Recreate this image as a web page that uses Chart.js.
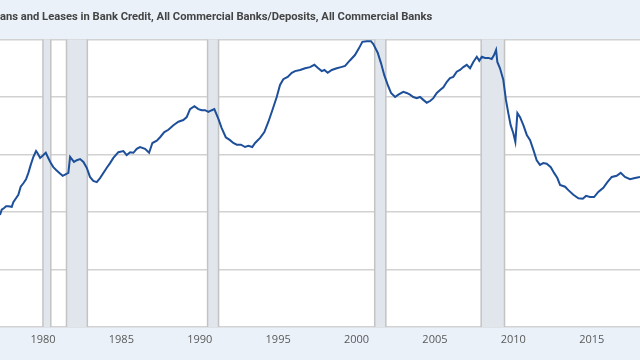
<!DOCTYPE html>
<html>
<head>
    <title>Loans and Leases / Deposits</title>
    <script src="https://cdn.jsdelivr.net/npm/chart.js"></script>
    <style>
        body { margin: 0; background: #eaf1f9; }
        #wrap { width: 640px; height: 360px; overflow: hidden; }
    </style>
</head>
<body>
<div id="wrap">
    <canvas id="ratioChart" width="640" height="360"></canvas>
</div>

<script>
    // Título (cortado à esquerda como no original)
    const titulo = 'Loans and Leases in Bank Credit, All Commercial Banks/Deposits, All Commercial Banks';

    // Anos (decimais) e valores
    const anos = [
        1977.26, 1977.37, 1977.52, 1977.65, 1977.79, 1978.01, 1978.11, 1978.28, 1978.43, 1978.58,
        1978.75, 1978.92, 1979.07, 1979.22, 1979.39, 1979.56, 1979.64, 1979.82, 1980.03, 1980.18,
        1980.34, 1980.50, 1980.66, 1980.84, 1981.05, 1981.26, 1981.47, 1981.62, 1981.73, 1981.84,
        1981.98, 1982.16, 1982.37, 1982.58, 1982.79, 1983.00, 1983.21, 1983.43, 1983.64, 1984.07,
        1984.28, 1984.49, 1984.81, 1985.13, 1985.34, 1985.56, 1985.77, 1985.98, 1986.19, 1986.51,
        1986.77, 1986.98, 1987.26, 1987.47, 1987.74, 1988.00, 1988.32, 1988.64, 1988.95, 1989.17,
        1989.38, 1989.66, 1989.91, 1990.13, 1990.34, 1990.55, 1990.77, 1990.93, 1991.19, 1991.40,
        1991.66, 1991.93, 1992.14, 1992.36, 1992.63, 1992.89, 1993.10, 1993.35, 1993.53, 1993.85,
        1994.12, 1994.38, 1994.63, 1994.91, 1995.12, 1995.33, 1995.61, 1995.87, 1996.08, 1996.40,
        1996.72, 1997.03, 1997.31, 1997.56, 1997.78, 1997.95, 1998.16, 1998.42, 1998.74, 1999.01,
        1999.27, 1999.59, 1999.90, 2000.16, 2000.37, 2000.65, 2000.92, 2001.07, 2001.35, 2001.56,
        2001.77, 2001.99, 2002.20, 2002.46, 2002.67, 2002.98, 2003.20, 2003.41, 2003.62, 2003.84,
        2004.05, 2004.26, 2004.48, 2004.69, 2004.90, 2005.12, 2005.33, 2005.54, 2005.75, 2005.96,
        2006.17, 2006.39, 2006.60, 2006.81, 2007.03, 2007.24, 2007.45, 2007.67, 2007.83, 2007.99,
        2008.20, 2008.41, 2008.62, 2008.77, 2008.90, 2008.98, 2009.15, 2009.36, 2009.53, 2009.68,
        2009.83, 2010.00, 2010.13, 2010.26, 2010.43, 2010.64, 2010.86, 2011.07, 2011.28, 2011.49,
        2011.70, 2011.91, 2012.13, 2012.39, 2012.60, 2012.81, 2012.98, 2013.30, 2013.51, 2013.83,
        2014.15, 2014.43, 2014.64, 2014.89, 2015.15, 2015.42, 2015.74, 2016.00, 2016.28, 2016.59,
        2016.85, 2017.12, 2017.44, 2017.76, 2018.08
    ];
    const razao = [
        0.695, 0.704, 0.707, 0.710, 0.710, 0.709, 0.717, 0.724, 0.730, 0.744,
        0.750, 0.757, 0.768, 0.782, 0.796, 0.806, 0.803, 0.794, 0.799, 0.803,
        0.794, 0.785, 0.778, 0.773, 0.768, 0.763, 0.766, 0.768, 0.796, 0.792,
        0.787, 0.790, 0.792, 0.787, 0.777, 0.761, 0.754, 0.752, 0.759, 0.777,
        0.785, 0.794, 0.804, 0.806, 0.799, 0.804, 0.803, 0.810, 0.813, 0.810,
        0.803, 0.820, 0.824, 0.830, 0.839, 0.843, 0.851, 0.857, 0.860, 0.865,
        0.879, 0.884, 0.879, 0.877, 0.877, 0.874, 0.877, 0.879, 0.862, 0.846,
        0.830, 0.825, 0.820, 0.817, 0.817, 0.813, 0.815, 0.813, 0.820, 0.829,
        0.839, 0.857, 0.877, 0.900, 0.921, 0.931, 0.935, 0.942, 0.945, 0.947,
        0.950, 0.952, 0.956, 0.950, 0.945, 0.947, 0.942, 0.947, 0.950, 0.952,
        0.954, 0.964, 0.973, 0.985, 0.996, 0.997, 0.997, 0.992, 0.977, 0.959,
        0.938, 0.921, 0.907, 0.900, 0.904, 0.909, 0.907, 0.904, 0.900, 0.898,
        0.900, 0.895, 0.890, 0.893, 0.898, 0.907, 0.912, 0.917, 0.926, 0.933,
        0.935, 0.944, 0.947, 0.952, 0.956, 0.950, 0.961, 0.970, 0.963, 0.970,
        0.968, 0.968, 0.966, 0.973, 0.982, 0.961, 0.950, 0.930, 0.895, 0.872,
        0.851, 0.837, 0.822, 0.872, 0.865, 0.851, 0.834, 0.825, 0.808, 0.790,
        0.782, 0.785, 0.784, 0.778, 0.768, 0.759, 0.747, 0.744, 0.738, 0.730,
        0.724, 0.723, 0.728, 0.726, 0.726, 0.735, 0.742, 0.752, 0.761, 0.763,
        0.768, 0.761, 0.757, 0.759, 0.761
    ];

    // Rótulos do eixo X
    const anosEixo = [1980, 1985, 1990, 1995, 2000, 2005, 2010, 2015];

    // Períodos de recessão (início / fim)
    const recessaoInicio = [1980.00, 1981.50, 1990.50, 2001.16, 2007.95];
    const recessaoFim = [1980.50, 1982.83, 1991.20, 2001.87, 2009.44];

    // Faixa de título e fundo branco da área do gráfico
    const fundoPlugin = {
        id: 'fundo',
        beforeDraw(chart) {
            const { ctx, chartArea: a } = chart;
            ctx.save();
            ctx.fillStyle = '#ffffff';
            ctx.fillRect(a.left, a.top, a.right - a.left, a.bottom - a.top);
            ctx.font = 'bold 11.2px Roboto';
            ctx.fillStyle = '#444444';
            ctx.textBaseline = 'middle';
            const corte = ctx.measureText('Lo').width;
            ctx.fillText(titulo, -corte, 17);
            ctx.restore();
        }
    };

    // Faixas cinzas das recessões
    const recessaoPlugin = {
        id: 'recessao',
        beforeDatasetsDraw(chart) {
            const { ctx, chartArea: a, scales } = chart;
            ctx.save();
            recessaoInicio.forEach((ini, i) => {
                const x1 = scales.x.getPixelForValue(ini);
                const x2 = scales.x.getPixelForValue(recessaoFim[i]);
                ctx.fillStyle = '#e1e6ec';
                ctx.fillRect(x1, a.top, x2 - x1, a.bottom - a.top);
                ctx.strokeStyle = '#c3c3c3';
                ctx.lineWidth = 1.5;
                ctx.beginPath();
                ctx.moveTo(x1, a.top); ctx.lineTo(x1, a.bottom);
                ctx.moveTo(x2, a.top); ctx.lineTo(x2, a.bottom);
                ctx.stroke();
            });
            ctx.restore();
        }
    };

    const ctxRazao = document.getElementById('ratioChart').getContext('2d');
    new Chart(ctxRazao, {
        type: 'line',
        data: {
            datasets: [{
                data: anos.map((a, i) => ({ x: a, y: razao[i] })),
                borderColor: '#1d4f9a',
                borderWidth: 2,
                pointRadius: 0,
                tension: 0
            }]
        },
        options: {
            responsive: false,
            animation: false,
            layout: { padding: { top: 39.5, left: 0, right: 0 } },
            plugins: {
                legend: { display: false },
                tooltip: { enabled: false }
            },
            scales: {
                x: {
                    type: 'linear',
                    min: 1977.26,
                    max: 2018.08,
                    afterBuildTicks: s => { s.ticks = anosEixo.map(v => ({ value: v })); },
                    afterFit: s => { s.height = 33; },
                    grid: { display: false, drawTicks: false },
                    border: { display: false },
                    ticks: {
                        padding: 6,
                        color: '#595959',
                        font: { family: 'Open Sans', size: 11 },
                        callback: v => String(v)
                    }
                },
                y: {
                    min: 0.5,
                    max: 1.0,
                    ticks: { display: false, stepSize: 0.1 },
                    afterFit: s => { s.width = 0; },
                    grid: { color: '#d2d2d2', lineWidth: 1.5, drawTicks: false },
                    border: { display: false }
                }
            }
        },
        plugins: [fundoPlugin, recessaoPlugin]
    });
</script>
</body>
</html>
